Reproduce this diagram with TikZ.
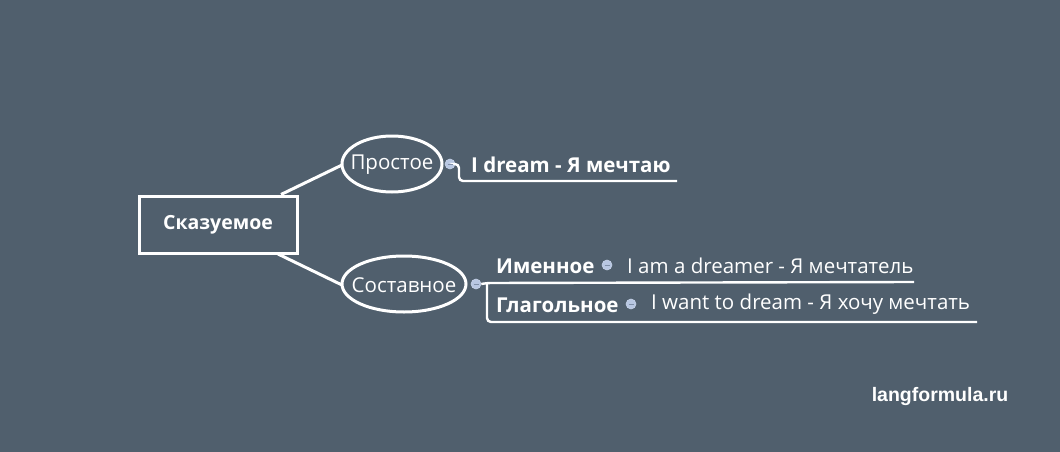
\documentclass[tikz,border=0pt]{standalone}
\usepackage{fontspec}
\setmainfont{Open Sans}
\newfontfamily\wmfont{Liberation Sans}
\definecolor{bg}{HTML}{505F6D}
\definecolor{mk}{HTML}{B8C7E2}
\definecolor{mkline}{HTML}{7F8FA8}
\begin{document}
\begin{tikzpicture}[x=1pt,y=-1pt,
  line/.style={draw=white,line width=3pt},
  thin/.style={draw=white,line width=2.4pt,rounded corners=4pt},
  rootbox/.style={draw=white,line width=3pt,minimum width=158pt,minimum height=57pt,font=\fontsize{19.5}{22}\selectfont\bfseries,text=white},
  etext/.style={text=white,font=\fontsize{20.5}{23}\selectfont,inner sep=0pt},
  lbl/.style={text=white,font=\fontsize{20.5}{23}\selectfont,inner sep=0pt,anchor=west},
  blbl/.style={lbl,font=\fontsize{20.5}{23}\selectfont\bfseries},
  marker/.style={circle,fill=mk,draw=mk!80!white,line width=0.6pt,minimum size=10pt,inner sep=0pt}
]
\fill[bg] (0,0) rectangle (1060,452);
\useasboundingbox (0,0) rectangle (1060,452);

\node[rootbox] (root) at (218,224.5) {Сказуемое};
\draw[line width=3pt,white] (392,164) ellipse [x radius=50, y radius=28];
\coordinate (e1w) at (342,165);
\node[etext] (simple) at (392,164.5) {Простое};
\draw[line width=3pt,white] (404,284) ellipse [x radius=62, y radius=28];
\coordinate (e2w) at (342,285);
\node[etext] (compound) at (404,285.5) {Составное};

\coordinate (r1) at (281,194.5);
\coordinate (r2) at (278,254);
\draw[line] (r1) -- (e1w);
\draw[line] (r2) -- (e2w);

% Простое branch
\node[marker] (m1) at (450,164) {};
\coordinate (c1a) at (459,164);
\coordinate (c1e) at (677,181);
\draw[thin] (m1.east) -- (c1a) -- (459,181) -- (c1e);
\draw[mkline,line width=0.8pt] (447.5,164) -- (452.5,164);
\node[blbl] (t1) at (471,165) {I dream - Я мечтаю};

% Составное branch
\node[marker] (m2) at (476,284) {};
\coordinate (c2e) at (914,282);
\coordinate (c3e) at (977,322);
\draw[thin] (m2.east) -- (487,283) -- (c2e);
\draw[thin] (487,283) -- (487,322) -- (c3e);
\draw[mkline,line width=0.8pt] (473.5,284) -- (478.5,284);

\node[blbl] (n1) at (496,266) {Именное};
\node[marker] (m3) at (607,265) {};
\draw[mkline,line width=0.8pt] (604.5,265) -- (609.5,265);
\node[lbl] (d1) at (627,266) {I am a dreamer - Я мечтатель};

\node[blbl] (n2) at (496,305) {Глагольное};
\node[marker] (m4) at (631,304) {};
\draw[mkline,line width=0.8pt] (628.5,304) -- (633.5,304);
\node[lbl] (d2) at (651,304) {I want to dream - Я хочу мечтать};

\node[text=white,font=\wmfont\fontsize{19.5}{22}\selectfont\bfseries,inner sep=0pt] (wm) at (940,396) {langformula.ru};
\end{tikzpicture}
\end{document}
